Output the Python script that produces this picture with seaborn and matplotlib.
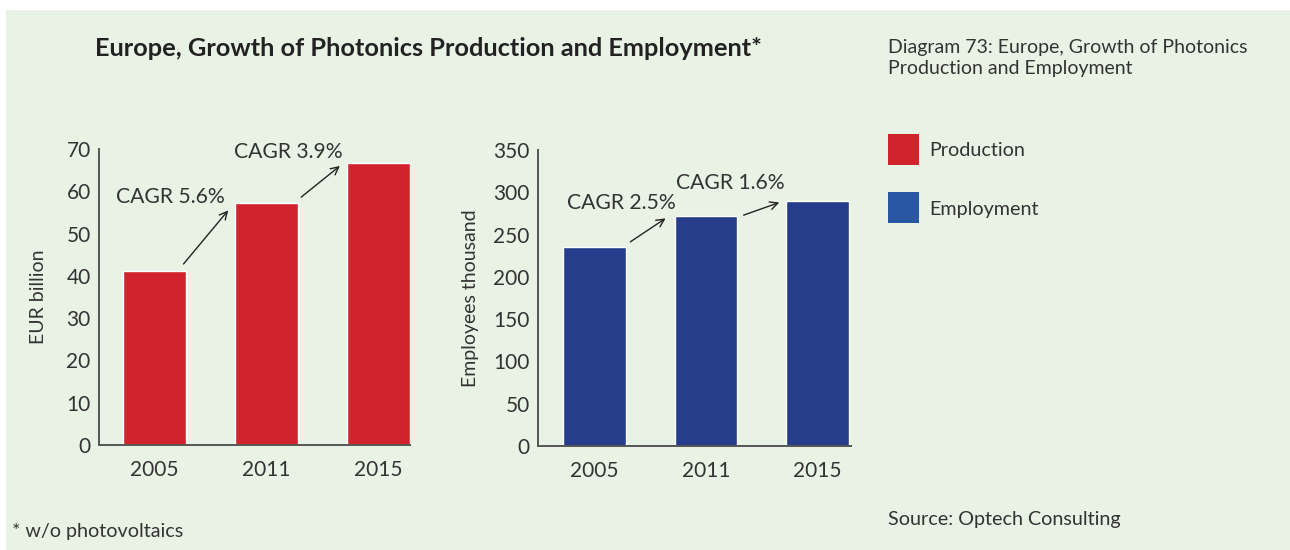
import matplotlib
matplotlib.use('Agg')
import matplotlib.pyplot as plt
import seaborn as sns
import pandas as pd
from matplotlib.patches import Rectangle

# --- data ---
years = ['2005', '2011', '2015']
production = [41.1, 57.3, 66.6]      # EUR billion
employment = [235, 272, 290]         # employees, thousand
prod_cagr = ['CAGR 5.6%', 'CAGR 3.9%']
empl_cagr = ['CAGR 2.5%', 'CAGR 1.6%']
legend_labels = ['Production', 'Employment']

red = '#D1232B'
navy = '#253D8B'
legend_blue = '#2957A3'
bg = '#E8F3E6'
txt = '#333333'

sns.set_style('white')
plt.rcParams['font.family'] = ['Lato', 'DejaVu Sans']

fig = plt.figure(figsize=(12.9, 5.5), dpi=100)
fig.patch.set_facecolor('white')
fig.patches.append(Rectangle((6 / 1290, 0), 1, 1 - 10 / 550, transform=fig.transFigure,
                             facecolor=bg, edgecolor='none', zorder=-10))

ax1 = fig.add_axes([99 / 1290, 1 - 445 / 550, 311 / 1290, 296 / 550])
ax2 = fig.add_axes([538 / 1290, 1 - 446 / 550, 313 / 1290, 296 / 550])

df_p = pd.DataFrame({'year': years, 'value': production})
df_e = pd.DataFrame({'year': years, 'value': employment})

sns.barplot(data=df_p, x='year', y='value', color=red, width=0.5625, saturation=1, ax=ax1)
sns.barplot(data=df_e, x='year', y='value', color=navy, width=0.5625, saturation=1, ax=ax2)

for ax, top, step, xl, lab, lpad in [(ax1, 70, 10, (-0.4955, 2.281), 'EUR billion', 14),
                                     (ax2, 350, 50, (-0.5045, 2.299), 'Employees thousand', 10)]:
    ax.set_facecolor('none')
    ax.set_ylim(0, top)
    ax.set_xlim(*xl)
    ax.set_yticks(range(0, top + 1, step))
    ax.tick_params(axis='both', length=0, labelsize=15, colors=txt)
    ax.tick_params(axis='y', pad=6)
    ax.tick_params(axis='x', pad=11)
    for s in ['top', 'right']:
        ax.spines[s].set_visible(False)
    for s in ['left', 'bottom']:
        ax.spines[s].set_color('#555555')
        ax.spines[s].set_linewidth(1.4)
    ax.set_xlabel('')
    ax.set_ylabel(lab, fontsize=14, color=txt, labelpad=lpad)

# CAGR annotations with arrows
arrow = dict(arrowstyle='->', color='#222222', lw=1.0, mutation_scale=14)
ax1.annotate('', xy=(0.674, 56.0), xytext=(0.243, 42.3), arrowprops=arrow)
ax1.annotate('', xy=(1.674, 66.4), xytext=(1.29, 58.2), arrowprops=arrow)
ax1.text(-0.344, 58.7, prod_cagr[0], fontsize=15.2, color=txt, va='center', ha='left')
ax1.text(0.71, 69.3, prod_cagr[1], fontsize=15.2, color=txt, va='center', ha='left')

ax2.annotate('', xy=(0.659, 271), xytext=(0.302, 239.6), arrowprops=arrow)
ax2.annotate('', xy=(1.68, 289), xytext=(1.314, 271.9), arrowprops=arrow)
ax2.text(-0.248, 286.9, empl_cagr[0], fontsize=15.2, color=txt, va='center', ha='left')
ax2.text(0.734, 310.5, empl_cagr[1], fontsize=15.2, color=txt, va='center', ha='left')

# titles and notes
fig.text(95 / 1290, 1 - 48 / 550, 'Europe, Growth of Photonics Production and Employment*',
         fontsize=18.3, fontweight='bold', color='#222222', va='center', ha='left')
fig.text(888 / 1290, 1 - 58 / 550, 'Diagram 73: Europe, Growth of Photonics\nProduction and Employment',
         fontsize=14, color=txt, va='center', ha='left', linespacing=1.25)
fig.text(12 / 1290, 1 - 532 / 550, '* w/o photovoltaics', fontsize=14.2, color=txt, va='center', ha='left')
fig.text(888 / 1290, 1 - 520 / 550, 'Source: Optech Consulting', fontsize=14.2, color=txt, va='center', ha='left')

# legend squares
for i, (lab, col) in enumerate(zip(legend_labels, [red, legend_blue])):
    y_top = 134 + i * 58
    fig.patches.append(Rectangle((888 / 1290, 1 - (y_top + 31) / 550), 31 / 1290, 31 / 550,
                                 transform=fig.transFigure, facecolor=col, edgecolor='none'))
    fig.text(929 / 1290, 1 - (y_top + 17) / 550, lab, fontsize=14.2, color=txt,
             va='center', ha='left')

fig.savefig('out.png', dpi=100, facecolor=fig.get_facecolor())
